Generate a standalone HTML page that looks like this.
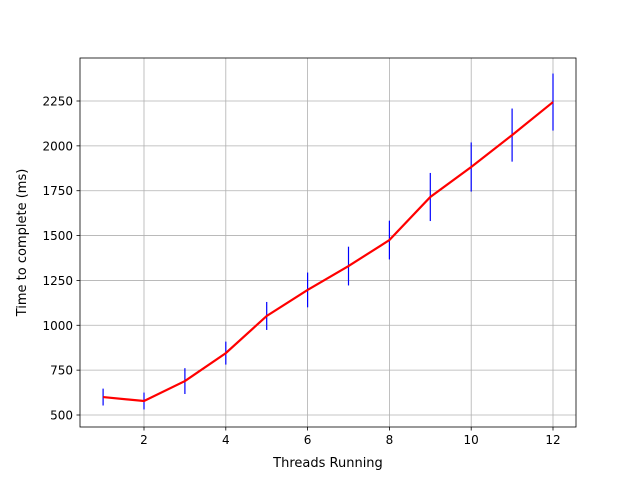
<!DOCTYPE html>
<html><head><meta charset="utf-8"><style>
body{margin:0;background:#fff;}
svg{display:block;font-family:"DejaVu Sans","Liberation Sans",sans-serif;}
</style></head><body>
<svg id="chart" width="640" height="480"></svg>
<script>
const threads=[1,2,3,4,5,6,7,8,9,10,11,12];
const times=[600,578,689,845,1052,1197,1330,1475,1715,1882,2060,2244];
const errors=[47,47,72,64,78,97,108,108,134,137,148,159];
const xTicks=[2,4,6,8,10,12];
const yTicks=[500,750,1000,1250,1500,1750,2000,2250];
const L=80,R=576,T=58,B=427;
const sx=v=>144+(v-2)*40.9;
const sy=v=>415-(v-500)*0.17943;
const svg=document.getElementById('chart');
const NS='http://www.w3.org/2000/svg';
function mk(tag,attrs,parent){const e=document.createElementNS(NS,tag);for(const k in attrs)e.setAttribute(k,attrs[k]);(parent||svg).appendChild(e);return e;}
const grid=mk('g',{});


xTicks.forEach(t=>{const x=sx(t);
 mk('line',{x1:x,x2:x,y1:T,y2:B,stroke:'#b0b0b0','stroke-width':0.8},grid);
 mk('line',{x1:x,x2:x,y1:B,y2:B+3.5,stroke:'#000','stroke-width':0.8});
 const tx=mk('text',{x:x,y:B+17,'font-size':12,'text-anchor':'middle'});tx.textContent=t;
 
 
});
yTicks.forEach(t=>{const y=sy(t);
 mk('line',{x1:L,x2:R,y1:y,y2:y,stroke:'#b0b0b0','stroke-width':0.8},grid);
 mk('line',{x1:L-3.5,x2:L,y1:y,y2:y,stroke:'#000','stroke-width':0.8});
 const tx=mk('text',{x:L-7,y:y+4.5,'font-size':12,'text-anchor':'end'});tx.textContent=t;
 
 
});
threads.forEach((t,i)=>{const e=mk('line',{x1:sx(t),x2:sx(t),y1:sy(times[i]-errors[i]),y2:sy(times[i]+errors[i]),stroke:'#0000ff','stroke-width':1.2});
 
 
});
const pl=mk('polyline',{points:threads.map((t,i)=>sx(t)+','+sy(times[i])).join(' '),fill:'none',stroke:'#ff0000','stroke-width':2.2});


const fr=mk('rect',{x:L,y:T,width:R-L,height:B-T,fill:'none',stroke:'#000','stroke-width':0.8});


const xl=mk('text',{x:(L+R)/2,y:467,'font-size':13,'text-anchor':'middle'});xl.textContent='Threads Running';


const yl=mk('text',{x:0,y:0,'font-size':13,'text-anchor':'middle',transform:'translate(26,'+((T+B)/2)+') rotate(-90)'});yl.textContent='Time to complete (ms)';


</script>
</body></html>
